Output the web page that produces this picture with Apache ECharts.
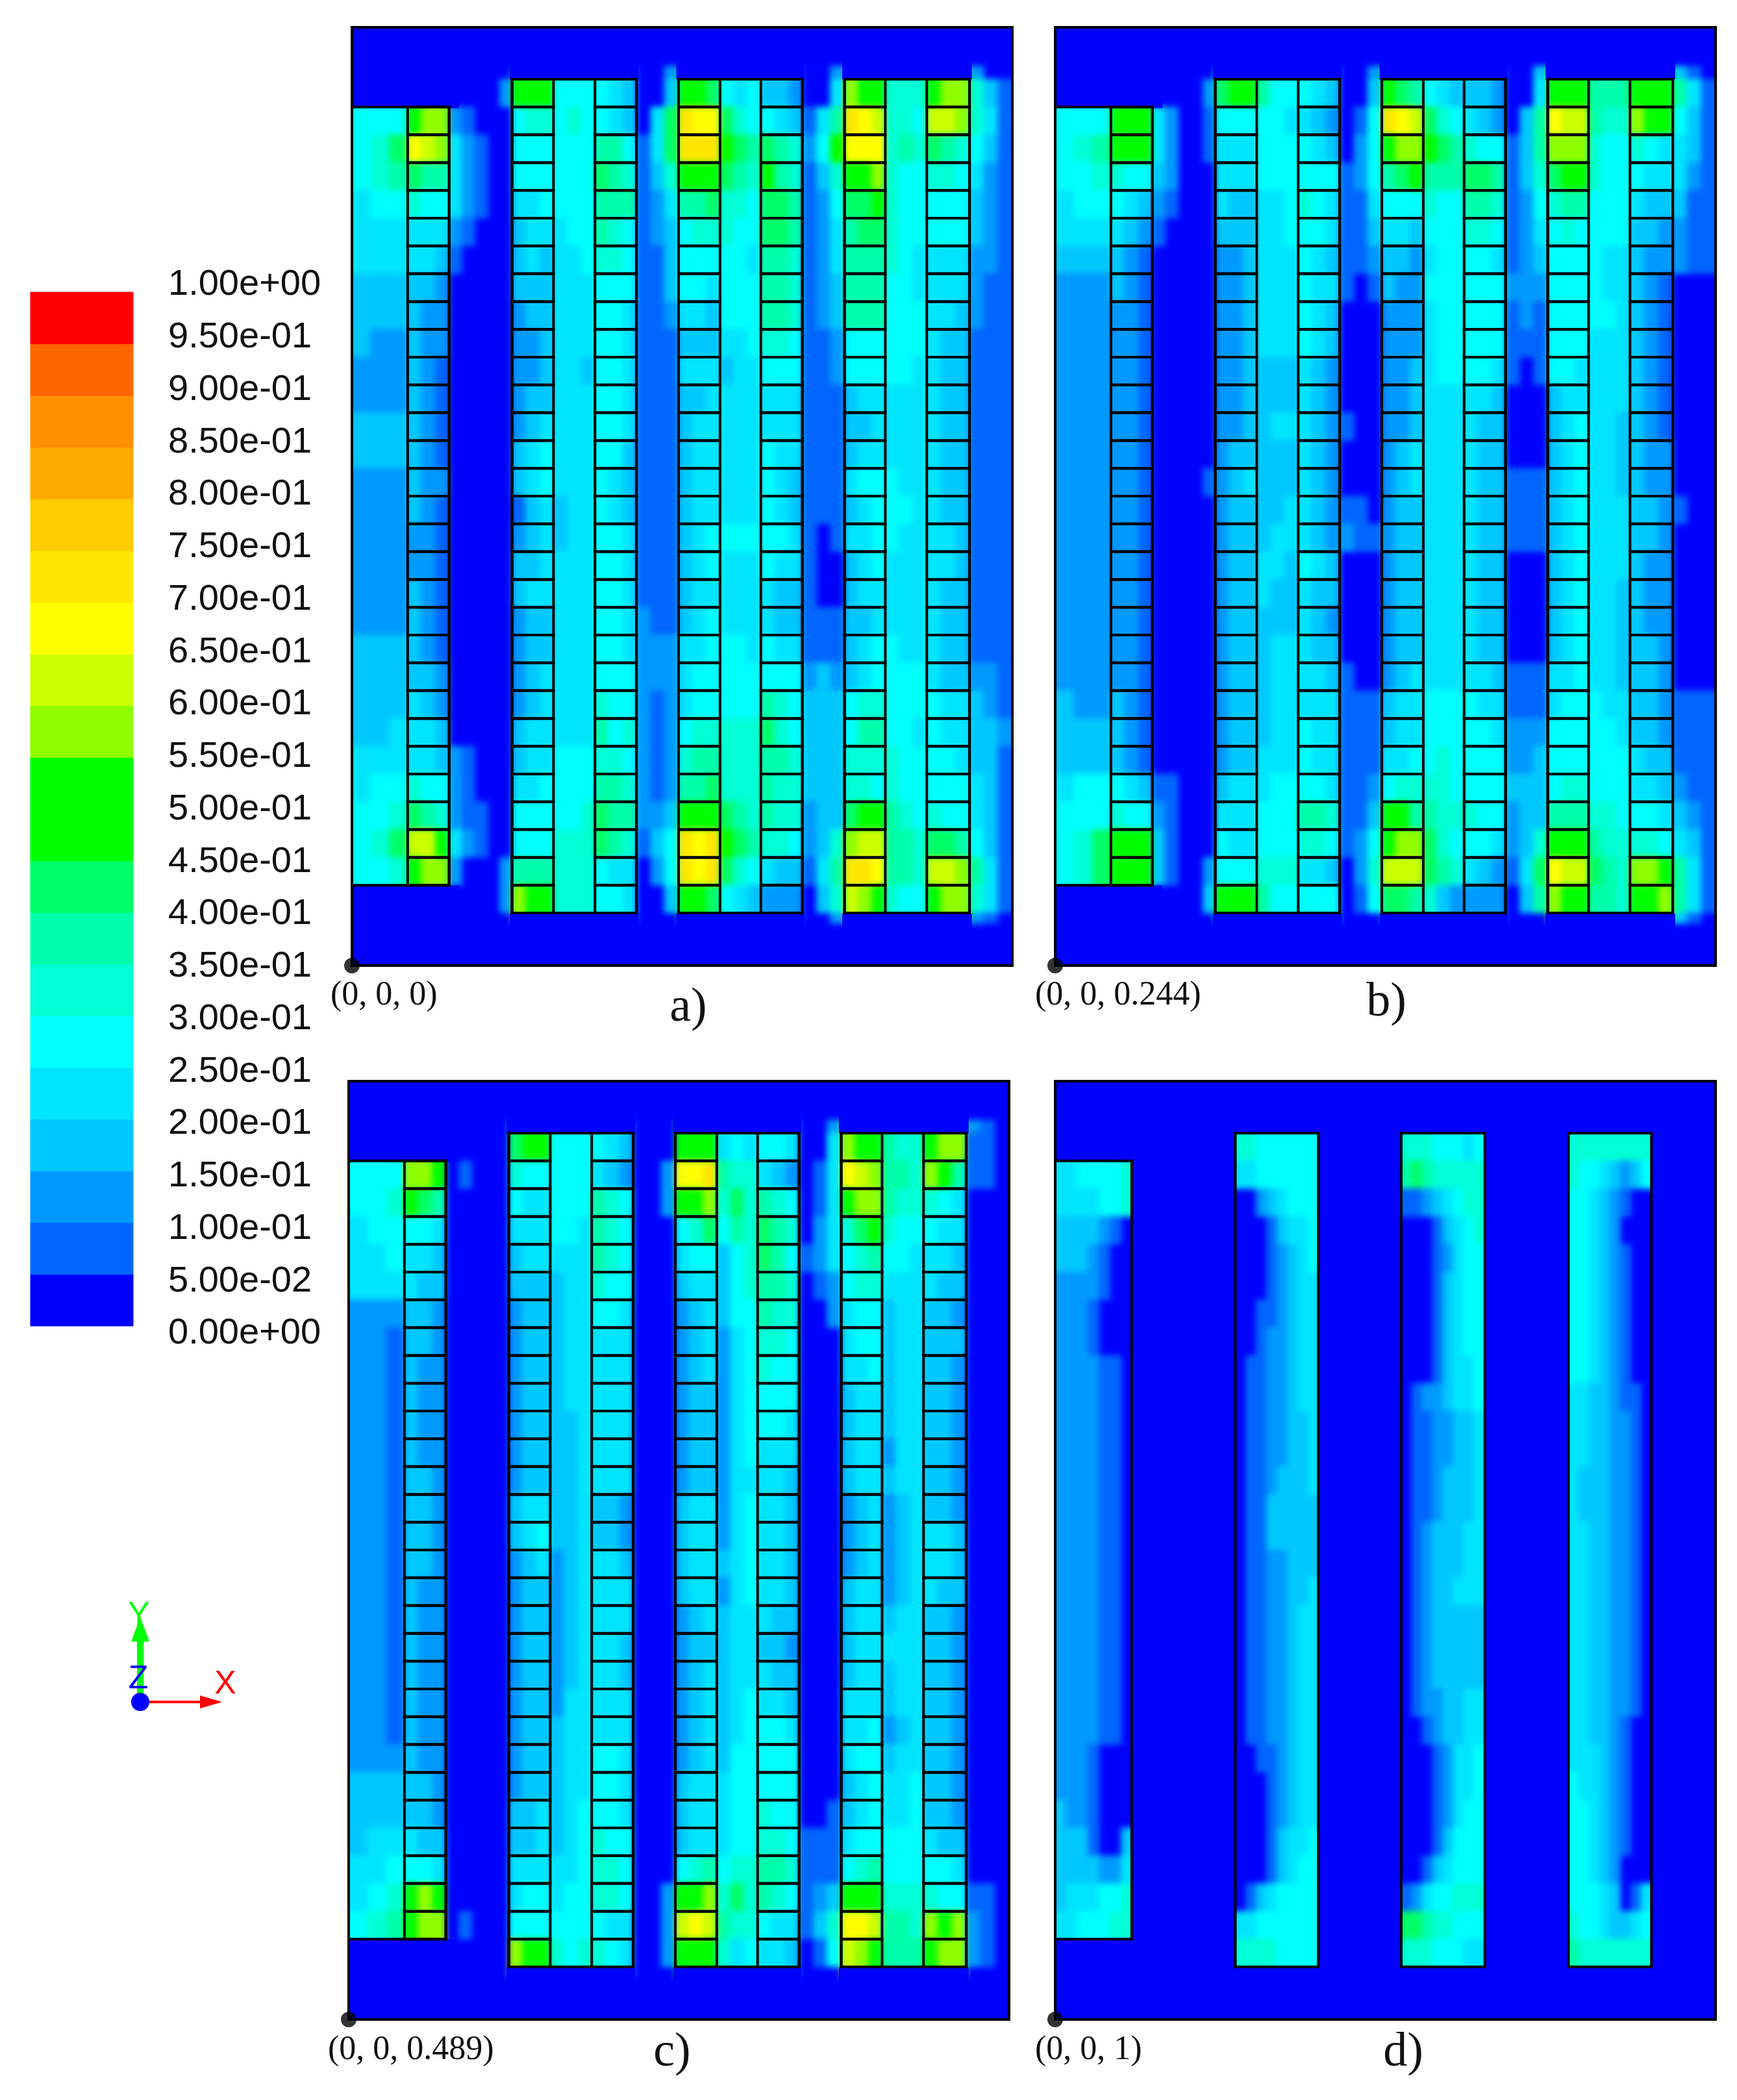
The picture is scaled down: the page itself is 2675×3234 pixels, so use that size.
<!DOCTYPE html>
<html>
<head>
<meta charset="utf-8">
<title>Contour panels</title>
<script src="https://cdn.jsdelivr.net/npm/echarts@6/dist/echarts.min.js"></script>
<style>
html,body{margin:0;padding:0;background:#fff;}
#clip,#main{position:absolute;left:0;top:0;width:2675px;height:3234px;}
/* contour colours sit in their own chart, softened and cut to the four frames */
#clip{clip-path:path("M542 42H1559V1487H542Z M1625 42H2642V1487H1625Z M537 1665H1554V3110H537Z M1625 1665H2642V3110H1625Z");}
#field{width:2675px;height:3234px;filter:blur(5px);}
</style>
</head>
<body>
<div id="clip"><div id="field"></div></div>
<div id="main"></div>
<script>
/* legend bands bottom->top, one colour per 0.05 step */
var levelColors = ["#0000ff","#0066ff","#0099ff","#00c8ff","#00e5ff","#00ffff","#00ffd5","#00ffaa","#00ff66","#00ff00",
  "#00ff00","#8fff00","#ccff00","#ffff00","#ffe600","#ffcc00","#ffaa00","#ff9000","#ff6600","#ff0000"];
var tickLabels = ["0.00e+00","5.00e-02","1.00e-01","1.50e-01","2.00e-01","2.50e-01","3.00e-01","3.50e-01","4.00e-01","4.50e-01",
  "5.00e-01","5.50e-01","6.00e-01","6.50e-01","7.00e-01","7.50e-01","8.00e-01","8.50e-01","9.00e-01","9.50e-01","1.00e+00"];

/* field rows: one hex digit = legend band index, per x strip.
   groups: box, ladder0, gap0, ladder1, chan1, ladder2, gap1, ladder3, chan2, ladder4, gap2, ladder5, chan3, ladder6, right
   first and last rows carry the wall values on, the blue mask covers them so the blur does not eat the wall edge */
var fieldA = [
"555 9bb 00000 999 555 543 002 998 545 332 002 b99 666 9bb 200",
"555 9bb 00002 999 555 543 003 998 545 332 004 b99 666 9bb 631",
"555 9bb 21000 566 565 543 048 edd 865 543 147 edc 665 ccb 641",
"568 dcb 42100 555 555 775 148 eee 987 876 259 ddd 676 876 531",
"567 877 42100 555 555 876 136 999 876 976 136 99b 655 665 421",
"455 655 42100 445 555 777 124 778 665 887 125 889 655 555 321",
"444 444 21000 344 455 765 123 566 655 887 124 788 655 555 321",
"444 443 10000 343 445 665 113 555 554 776 124 777 654 444 221",
"333 332 00000 333 444 555 113 554 555 776 123 777 554 444 211",
"333 322 00000 233 444 554 112 443 555 776 123 777 555 443 211",
"322 322 00000 223 444 554 111 333 445 665 112 555 555 433 111",
"222 321 00000 223 443 554 111 444 344 555 112 555 554 433 111",
"222 321 00000 233 444 554 111 334 444 444 111 344 444 433 111",
"333 321 00000 234 444 554 111 344 444 444 111 334 444 433 111",
"333 321 00000 345 444 553 111 344 444 544 111 344 444 433 111",
"222 322 00000 345 444 543 111 344 444 543 111 455 544 433 111",
"222 321 00000 134 344 543 111 344 444 543 111 345 554 433 111",
"222 221 00000 234 344 554 111 345 555 554 101 445 544 443 111",
"222 221 00000 334 444 554 111 345 444 544 100 345 444 443 111",
"222 321 00000 344 444 554 111 344 444 433 100 344 444 433 111",
"222 321 00000 233 444 554 211 345 444 433 111 334 444 433 111",
"333 321 00000 233 444 554 222 445 554 544 111 345 544 433 111",
"333 332 00000 234 444 555 222 455 555 555 232 345 555 433 221",
"333 432 00000 234 444 655 212 455 555 765 333 566 555 544 321",
"334 443 00000 344 444 756 212 566 666 865 333 577 554 544 332",
"444 443 21000 344 555 665 212 677 666 776 333 666 655 554 331",
"455 655 21000 445 555 776 212 778 666 766 333 665 655 555 431",
"556 876 21100 555 556 877 223 999 876 766 233 899 765 655 431",
"568 cc9 42100 555 666 876 135 ede 987 665 236 bcc 776 887 531",
"556 9bb 20002 777 666 544 025 ede 865 433 147 eed 776 ccb 741",
"556 9bb 00002 b99 666 554 003 998 543 222 036 cb9 655 9bb 641",
"556 9bb 00000 b99 666 554 000 998 543 222 002 cb9 655 9bb 210"
];
var fieldB = [
"555 999 00000 899 755 543 002 987 543 332 003 999 777 999 310",
"555 999 00002 899 755 543 003 987 543 332 004 999 777 999 741",
"555 999 42001 555 554 432 015 edc 865 432 037 dcc 766 b99 531",
"567 999 42001 444 555 543 025 9bb 987 655 137 bbb 655 654 431",
"556 655 32000 444 555 555 125 789 777 887 136 899 655 544 421",
"455 543 21000 433 445 654 114 555 655 776 125 677 555 433 311",
"444 432 10000 333 445 554 113 443 555 665 124 565 555 332 211",
"333 321 00000 223 444 543 112 332 455 554 123 555 544 322 211",
"222 321 00000 223 444 544 101 322 555 555 222 555 544 321 000",
"222 221 00000 223 444 543 000 222 455 555 121 555 554 321 000",
"222 221 00000 223 444 543 000 222 455 555 111 555 444 321 000",
"222 221 00000 223 333 432 000 223 455 554 101 554 444 321 000",
"222 221 00000 223 333 432 000 223 444 443 000 344 444 321 000",
"222 221 00000 223 344 432 100 223 444 433 000 345 443 321 000",
"222 221 00000 233 333 432 000 234 444 433 000 345 443 322 000",
"222 221 00001 234 333 432 000 234 444 433 111 345 443 322 000",
"222 221 00000 233 334 432 110 233 444 433 111 345 444 332 100",
"222 221 00000 233 344 432 211 233 444 433 111 345 444 332 000",
"222 221 00000 233 443 543 000 233 444 433 000 345 444 322 000",
"222 221 00000 233 433 433 000 233 444 433 000 345 443 322 000",
"222 221 00000 233 333 432 000 233 444 433 000 345 443 322 000",
"222 221 00000 233 344 433 000 233 444 433 000 345 443 332 000",
"222 221 00000 233 344 443 100 234 444 443 111 445 443 332 000",
"322 321 00000 233 344 444 111 344 555 544 111 455 544 332 111",
"333 321 00000 233 344 544 111 344 555 554 222 555 554 332 111",
"333 321 00000 233 444 544 111 445 565 555 223 555 555 433 111",
"455 543 11000 344 455 554 112 566 665 555 333 566 555 443 211",
"555 655 21000 444 555 776 113 997 766 655 233 777 665 554 321",
"568 999 31000 544 555 665 125 9bb 865 554 236 999 766 665 431",
"568 999 31002 555 666 443 026 ccc 876 432 148 dcc 876 bb9 741",
"568 999 00003 999 755 555 015 887 632 222 037 b99 776 99b 741",
"568 999 00000 999 755 555 000 887 632 222 000 b99 776 99b 310"
];
var fieldC = [
"555 bb9 00000 899 555 543 000 999 454 554 002 b99 766 9bb 210",
"555 bb9 00000 899 555 543 000 999 454 554 004 b99 766 9bb 110",
"555 bb9 01000 655 555 432 002 dde 766 432 014 dcb 776 b97 110",
"556 987 00000 544 555 765 002 99b 686 765 014 9bb 766 654 000",
"455 554 00000 444 554 765 000 568 576 876 024 689 655 544 000",
"445 443 00000 344 444 765 000 455 356 875 124 567 554 443 000",
"444 433 00000 333 344 655 000 344 356 776 012 566 444 433 000",
"222 332 00000 233 344 554 000 234 355 766 002 455 344 332 000",
"221 332 00000 233 344 444 000 234 245 665 000 455 344 333 000",
"221 322 00000 233 344 444 000 234 245 655 000 445 344 332 000",
"221 322 00000 233 344 444 000 233 245 555 000 344 344 332 000",
"221 322 00000 233 334 444 000 233 245 554 000 344 344 332 000",
"221 322 00000 233 334 444 000 233 245 444 000 344 244 332 000",
"221 332 00000 233 334 444 000 233 244 443 000 344 344 332 000",
"221 332 00000 344 334 332 000 344 245 443 000 234 234 332 000",
"221 332 00000 345 334 332 000 344 245 443 000 234 234 443 000",
"221 332 00000 234 234 443 000 344 345 443 000 234 234 443 000",
"221 322 00000 233 234 444 000 344 245 443 000 344 234 433 000",
"221 322 00000 233 234 444 000 234 344 433 000 344 344 332 000",
"221 322 00000 233 234 443 000 233 344 332 000 344 444 332 000",
"221 322 00000 233 234 443 000 234 344 433 000 344 344 332 000",
"221 322 00000 233 244 444 000 234 345 443 000 444 344 332 000",
"221 322 00000 233 344 444 000 234 345 554 000 445 234 332 000",
"222 322 00000 233 344 554 000 234 355 555 000 455 344 332 000",
"333 332 00000 233 344 554 000 344 455 555 000 345 445 332 000",
"333 332 00000 334 345 554 000 344 455 655 001 345 445 332 000",
"344 433 00000 334 345 655 000 344 455 665 111 455 555 433 000",
"445 554 00000 444 445 665 000 567 566 776 111 567 555 554 000",
"456 9b9 00000 455 455 665 002 99b 686 765 123 999 666 655 110",
"567 9bb 01000 555 555 544 002 cdc 766 544 136 ddc 776 b9b 210",
"567 9bb 00000 b99 656 654 002 999 645 443 015 cb9 777 9bb 210",
"567 9bb 00000 b99 656 654 000 999 645 443 000 cb9 777 9bb 000"
];
/* panel d strips: box(7) gap channel(8) gap channel(8) gap channel(8) right */
var fieldD = [
"4455556 0 66555555 0 66655545 0 66666666 0",
"4455556 0 66555555 0 66655545 0 66666666 0",
"4455556 0 44555555 0 78766666 0 65543235 0",
"4444556 0 00234555 0 11234566 0 55432100 0",
"3333210 0 00013445 0 00013456 0 55432000 0",
"3332100 0 00012345 0 00012455 0 55432100 0",
"2222100 0 00012344 0 00013455 0 55432100 0",
"2221000 0 00112344 0 00013455 0 55432100 0",
"2221000 0 00122344 0 00013455 0 55432100 0",
"2222110 0 01122344 0 00013445 0 55432100 0",
"2222110 0 01122344 0 01223445 0 44332110 0",
"2222110 0 01122334 0 01122334 0 44332210 0",
"2222110 0 01122334 0 01122334 0 44332210 0",
"2222110 0 01123334 0 01123334 0 43332210 0",
"2222110 0 01133333 0 01123334 0 43332210 0",
"2222110 0 01133333 0 01233344 0 44332210 0",
"2222110 0 01122333 0 01233344 0 44332210 0",
"2222110 0 01122334 0 01233444 0 44332210 0",
"2222110 0 01122344 0 01233333 0 44332210 0",
"2222110 0 01122344 0 01233333 0 44332210 0",
"2222110 0 01122344 0 01233333 0 44332210 0",
"2222110 0 01122344 0 01223344 0 44332210 0",
"2222110 0 01122344 0 00123344 0 44332100 0",
"2221000 0 00112344 0 00012445 0 44432100 0",
"2221000 0 00012344 0 00012445 0 54432100 0",
"3221000 0 00012344 0 00012455 0 55432100 0",
"3331003 0 00013445 0 00013555 0 55432100 0",
"3333224 0 00013455 0 00134555 0 55432000 0",
"3444556 0 01345555 0 12455666 0 55543014 0",
"4455566 0 44555555 0 88766555 0 65543345 0",
"4455566 0 66665555 0 66655544 0 76666666 0",
"4455566 0 66665555 0 66655544 0 76666666 0"
];

/* strip edges in panel units (frame is 1019 x 1445), outermost ones run past the frame */
var ladderEdges = [-14,29,58,86,107,129,150,170,190,210,228,247,268,290,311,332,354,375,396,418,439,461,482,504,
  525,547,568,589,610,631,652,674,695,717,738,760,781,802,823,844,866,887,909,931,953,975,997,1033];
var plainEdges = [-14,17,34,51,68,85,102,132,264,294,310,326,342,358,374,390,420,520,550,566,582,598,614,630,646,677,
  778,808,824,840,856,872,888,904,934,1033];
var cellTop = 80, cellPitch = 42.8, nRows = 30;

/* solid walls: [x0, x1, first row, last row] */
var ladderCols = [[86,150,1,29],[247,311,0,30],[375,439,0,30],[504,568,0,30],[631,695,0,30],[760,823,0,30],[887,953,0,30]];
var ladderOuter = [[0,150,1,29],[247,439,0,30],[504,695,0,30],[760,953,0,30]];
var plainOuter = [[0,118,1,29],[278,406,0,30],[534,663,0,30],[792,920,0,30]];
/* plain blue outside the flow domain: [x0, y0, x1, y1] */
var ladderMasks = [[0,0,165,124],[0,1322,165,1445],[244,0,442,80],[501,0,698,80],[757,0,956,80],
  [244,1365,442,1445],[501,1365,698,1445],[757,1365,956,1445]];
var plainMasks = [[0,0,118,124],[0,1322,118,1445],[118,0,278,1445],[278,0,406,80],[278,1365,406,1445],[406,0,534,1445],
  [534,0,663,80],[534,1365,663,1445],[663,0,792,1445],[792,0,920,80],[792,1365,920,1445],[920,0,1019,1445]];

var panels = [
  { left:542,  top:42,   rows:fieldA, edges:ladderEdges, outer:ladderOuter, cols:ladderCols, masks:ladderMasks },
  { left:1625, top:42,   rows:fieldB, edges:ladderEdges, outer:ladderOuter, cols:ladderCols, masks:ladderMasks },
  { left:537,  top:1665, rows:fieldC, edges:ladderEdges, outer:ladderOuter, cols:ladderCols, masks:ladderMasks },
  { left:1625, top:1665, rows:fieldD, edges:plainEdges,  outer:plainOuter,  cols:[],         masks:plainMasks }
];
var notes = [
  { t:"(0, 0, 0)",     x:509,  y:1533, s:52, a:"left" },
  { t:"(0, 0, 0.244)", x:1594, y:1533, s:52, a:"left" },
  { t:"(0, 0, 0.489)", x:505,  y:3157, s:52, a:"left" },
  { t:"(0, 0, 1)",     x:1594, y:3157, s:52, a:"left" },
  { t:"a)", x:1060, y:1553, s:74, a:"center" },
  { t:"b)", x:2135, y:1545, s:74, a:"center" },
  { t:"c)", x:1035, y:3162, s:74, a:"center" },
  { t:"d)", x:2161, y:3162, s:74, a:"center" }
];

function rowY(i){
  if(i < 0) return 60;
  if(i > nRows) return 1380;
  return cellTop + i*cellPitch;
}
function fieldCells(p){
  var out = [];
  p.rows.forEach(function(str, r){
    var digits = str.replace(/\s+/g,"");
    var i = r - 1;
    for(var k=0;k<digits.length;k++){
      var lv = parseInt(digits.charAt(k),16);
      if(!lv) continue;
      out.push([p.edges[k], rowY(i), p.edges[k+1], rowY(i+1), lv]);
    }
  });
  return out;
}
function wallRects(p){
  var out = [[0,0,1019,1445]];
  p.cols.forEach(function(c){
    for(var i=c[2];i<c[3];i++) out.push([c[0],rowY(i),c[1],rowY(i+1)]);
  });
  p.outer.forEach(function(c){ out.push([c[0],rowY(c[2]),c[1],rowY(c[3])]); });
  return out;
}
function renderCell(params, api){
  var a = api.coord([api.value(0),api.value(1)]);
  var b = api.coord([api.value(2),api.value(3)]);
  var col = levelColors[api.value(4)];
  return { type:"rect", shape:{x:Math.min(a[0],b[0]),y:Math.min(a[1],b[1]),width:Math.abs(b[0]-a[0]),height:Math.abs(b[1]-a[1])},
    style:{fill:col, stroke:col, lineWidth:1} };
}
function renderWall(params, api){
  var a = api.coord([api.value(0),api.value(1)]);
  var b = api.coord([api.value(2),api.value(3)]);
  return { type:"rect", shape:{x:a[0],y:a[1],width:b[0]-a[0],height:b[1]-a[1]},
    style:{fill:null, stroke:"#000", lineWidth:4} };
}

var fGrids = [], fX = [], fY = [], fSeries = [];
var grids = [], xAxes = [], yAxes = [], series = [];
panels.forEach(function(p, n){
  var g = { left:p.left, top:p.top, width:1017, height:1445 };
  fGrids.push(g);
  fX.push({ gridIndex:n, type:"value", min:0, max:1019, show:false });
  fY.push({ gridIndex:n, type:"value", min:0, max:1445, inverse:true, show:false });
  fSeries.push({ type:"custom", xAxisIndex:n, yAxisIndex:n, renderItem:renderCell, data:fieldCells(p), silent:true });

  grids.push(g);
  xAxes.push({ gridIndex:n, type:"value", min:0, max:1019, show:false });
  yAxes.push({ gridIndex:n, type:"value", min:0, max:1445, inverse:true, show:false });
  series.push({ type:"custom", xAxisIndex:n, yAxisIndex:n, renderItem:renderCell, silent:true, z:2,
    data:p.masks.map(function(m){ return [m[0],m[1],m[2],m[3],0]; }) });
  series.push({ type:"custom", xAxisIndex:n, yAxisIndex:n, renderItem:renderWall, data:wallRects(p), silent:true, z:3 });
  series.push({ type:"scatter", xAxisIndex:n, yAxisIndex:n, data:[[0,1445]], symbolSize:24, clip:false, silent:true, z:4,
    itemStyle:{color:"#000"} });
});

/* legend bar and its labels, label axis is a bit taller than the bar like in the source */
grids.push({ left:47, top:450, width:158, height:1592 });
xAxes.push({ gridIndex:4, type:"value", min:0, max:1, show:false });
yAxes.push({ gridIndex:4, type:"value", min:0, max:1, show:false });
series.push({ type:"custom", xAxisIndex:4, yAxisIndex:4, renderItem:renderCell, silent:true,
  data:levelColors.map(function(c,i){ return [0,i*0.05,1,(i+1)*0.05,i]; }) });
grids.push({ left:246, top:439, width:1, height:1615 });
xAxes.push({ gridIndex:5, type:"value", min:0, max:1, show:false });
yAxes.push({ gridIndex:5, type:"value", min:0, max:1, interval:0.05, position:"right",
  axisLine:{show:false}, axisTick:{show:false}, splitLine:{show:false},
  axisLabel:{ show:true, margin:12, color:"#111", fontSize:56, fontFamily:"Liberation Sans",
    formatter:function(v){ return tickLabels[Math.round(v/0.05)]; } } });

var gfx = notes.map(function(n){
  return { type:"text", x:n.x, y:n.y, z:10,
    style:{ text:n.t, fill:"#111", font:n.s+"px 'Liberation Serif'", textAlign:n.a, textVerticalAlign:"middle" } };
});
/* XYZ triad */
gfx.push({ type:"rect", z:10, shape:{x:211,y:2525,width:10,height:95}, style:{fill:"#00ff00"} });
gfx.push({ type:"polygon", z:10, shape:{points:[[216,2490],[230,2528],[202,2528]]}, style:{fill:"#00ff00"} });
gfx.push({ type:"line", z:10, shape:{x1:216,y1:2621,x2:312,y2:2621}, style:{stroke:"#ff0000",lineWidth:4} });
gfx.push({ type:"polygon", z:10, shape:{points:[[308,2611],[342,2621],[308,2631]]}, style:{fill:"#ff0000"} });
gfx.push({ type:"circle", z:11, shape:{cx:216,cy:2621,r:14}, style:{fill:"#0000ff"} });
gfx.push({ type:"text", z:11, x:214, y:2488, style:{ text:"Y", fill:"#00ff00", font:"50px 'Liberation Sans'", textAlign:"center", textVerticalAlign:"middle" } });
gfx.push({ type:"text", z:11, x:213, y:2586, style:{ text:"Z", fill:"#0000ff", font:"50px 'Liberation Sans'", textAlign:"center", textVerticalAlign:"middle" } });
gfx.push({ type:"text", z:11, x:347, y:2594, style:{ text:"X", fill:"#ff0000", font:"50px 'Liberation Sans'", textAlign:"center", textVerticalAlign:"middle" } });

var fieldChart = echarts.init(document.getElementById("field"), null, {renderer:"canvas"});
fieldChart.setOption({
  animation:false,
  backgroundColor:levelColors[0],
  grid:fGrids, xAxis:fX, yAxis:fY, series:fSeries
});
var chart = echarts.init(document.getElementById("main"), null, {renderer:"canvas"});
chart.setOption({
  animation:false,
  backgroundColor:"transparent",
  grid:grids, xAxis:xAxes, yAxis:yAxes, series:series, graphic:{elements:gfx}
});
</script>
</body>
</html>
